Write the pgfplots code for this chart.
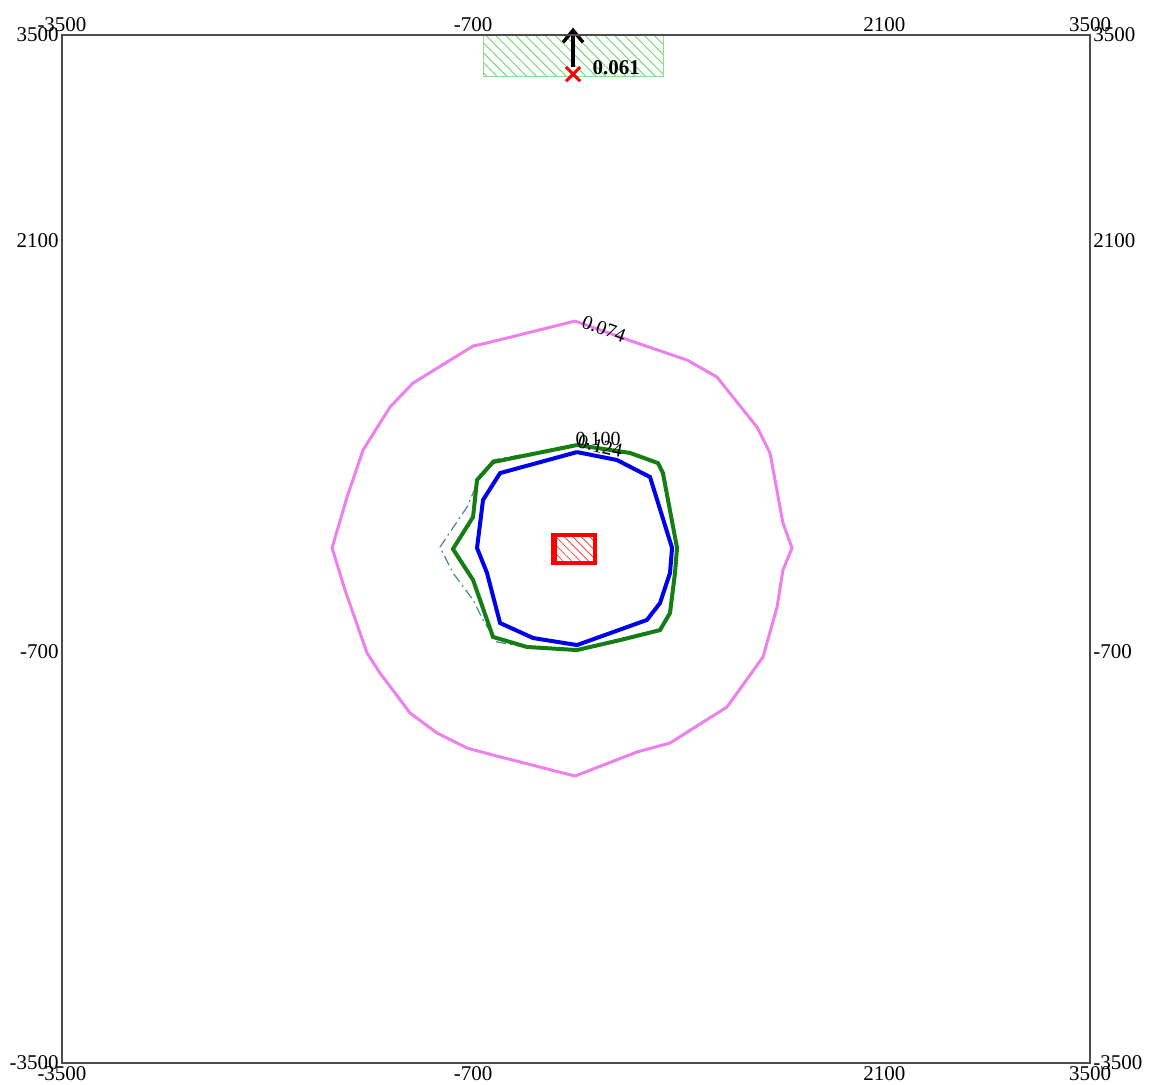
\documentclass[border=0pt]{standalone}
\usepackage{fontspec}
\setmainfont{Liberation Serif}
\usepackage{pgfplots}
\pgfplotsset{compat=1.18}
\usetikzlibrary{patterns.meta, arrows.meta}

\definecolor{pinkc}{RGB}{238,128,238}
\definecolor{greenc}{RGB}{20,125,20}
\definecolor{bluec}{RGB}{0,0,235}
\definecolor{tealc}{RGB}{70,135,150}
\definecolor{hatchgreen}{RGB}{110,215,110}

\begin{document}
\begin{tikzpicture}
\path[use as bounding box] (-31pt,-10.5pt) rectangle (543.5pt,531.5pt);
\pgfplotsset{
  mybox/.style={
    at={(0,0)}, anchor=south west, scale only axis,
    width=514pt, height=514pt,
    xmin=-3500, xmax=3500, ymin=-3500, ymax=3500,
    xtick={-3500,-700,2100,3500}, xticklabels={-3500,-700,2100,3500},
    ytick={-3500,-700,2100,3500}, yticklabels={-3500,-700,2100,3500},
    major tick length=0pt,
    tick label style={font=\fontsize{10.5}{12}\selectfont, inner sep=1.5pt},
    axis line style={black!70, line width=0.8pt},
    clip=false,
  }
}
\begin{axis}[mybox]
% green hatched rectangle
\addplot[draw=hatchgreen!80, line width=0.4pt,
  pattern={Lines[angle=-45, distance=3.5pt, line width=0.45pt]}, pattern color=hatchgreen]
  coordinates {(-633,3221) (592,3221) (592,3500) (-633,3500)} -- cycle;
% pink contour 0.074
\addplot[pinkc, line width=1.5pt] coordinates {
(-7,1552) (415,1403) (756,1287) (960,1171) (1232,831) (1321,654) (1409,177) (1471,7)
(1409,-143) (1369,-395) (1273,-736) (1028,-1076) (640,-1321) (415,-1382) (-7,-1546)
(-565,-1403) (-742,-1355) (-946,-1253) (-1130,-1117) (-1335,-844) (-1423,-708)
(-1573,-279) (-1661,7) (-1559,354) (-1450,674) (-1266,967) (-1110,1130) (-701,1382)
(-606,1403) (-7,1552)};
% dashed teal contour (left part)
\addplot[tealc, line width=0.6pt, dash pattern=on 5pt off 2pt on 1pt off 2pt] coordinates {
(-381,640) (-565,606) (-654,490) (-742,286) (-926,14) (-838,-163) (-701,-347)
(-633,-483) (-538,-633) (-313,-674)};
% green contour
\addplot[greenc, line width=2pt] coordinates {
(7,708) (368,654) (558,585) (592,517) (688,7) (674,-163) (640,-436) (572,-552)
(300,-620) (7,-688) (-334,-667) (-565,-599) (-701,-211) (-838,0) (-701,218)
(-674,470) (-565,592) (7,708)};
% blue contour
\addplot[bluec, line width=2pt] coordinates {
(7,660) (279,606) (504,490) (654,7) (640,-163) (572,-368) (483,-483) (7,-654)
(-293,-606) (-517,-504) (-606,-163) (-674,7) (-633,334) (-517,517) (7,660)};
% red hatched rectangle
\addplot[draw=red, line width=2pt,
  pattern={Lines[angle=-45, distance=3pt, line width=0.4pt]}, pattern color=red!75]
  coordinates {(-157,-95) (129,-95) (129,95) (-157,95)} -- cycle;
\addplot[red, line width=2pt] coordinates {(-140,-95) (-140,95)};
% arrow and receptor mark
\addplot[black, line width=1.7pt, -{Straight Barb[length=6pt, width=10pt, line width=1.7pt]}]
  coordinates {(-20,3280) (-20,3550)};
\addplot[only marks, mark=x, mark size=5pt, red, mark options={line width=1.5pt}]
  coordinates {(-20,3234)};
% labels
\node[anchor=west, font=\fontsize{10.5}{12}\selectfont\bfseries, inner sep=0pt]
  at (axis cs:110,3275) {0.061};
\node[font=\fontsize{10}{12}\selectfont, rotate=-20, inner sep=0pt]
  at (axis cs:190,1500) {0.074};
\node[font=\fontsize{10}{12}\selectfont, inner sep=0pt] at (axis cs:150,750) {0.100};
\node[font=\fontsize{10}{12}\selectfont, rotate=-12, inner sep=0pt] at (axis cs:165,700) {0.124};
\end{axis}
\begin{axis}[mybox, xticklabel pos=upper, yticklabel pos=right]
\end{axis}
\end{tikzpicture}
\end{document}
